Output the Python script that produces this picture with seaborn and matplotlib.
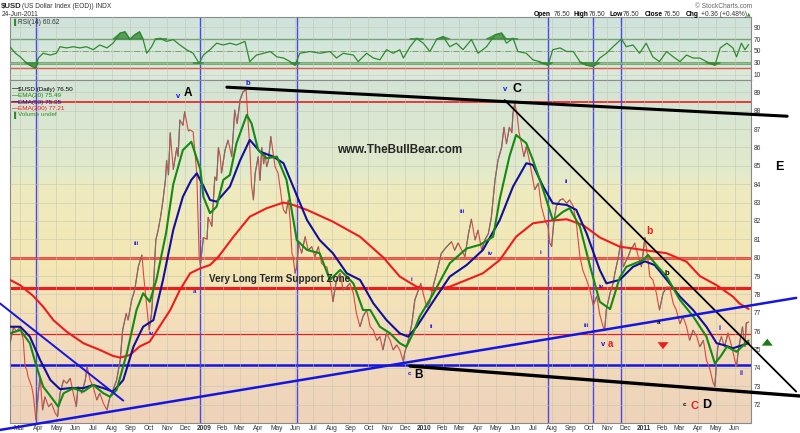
import pandas as pd
import matplotlib
matplotlib.use("Agg")
import matplotlib.pyplot as plt
import matplotlib.dates as mdates
from matplotlib.collections import LineCollection
from matplotlib.colors import LinearSegmentedColormap
import seaborn as sns

sns.set_style("white")
plt.rcParams['font.family'] = ['Liberation Sans', 'DejaVu Sans']

# ---- price (daily close) ----
price_dates = [
    "2008-02-14", "2008-02-20", "2008-02-25", "2008-03-02", "2008-03-07", "2008-03-10", "2008-03-13",
    "2008-03-15", "2008-03-21", "2008-03-24", "2008-03-28", "2008-04-01", "2008-04-04", "2008-04-08",
    "2008-04-12", "2008-04-18", "2008-04-23", "2008-04-29", "2008-05-03", "2008-05-07", "2008-05-13",
    "2008-05-18", "2008-05-24", "2008-05-29", "2008-06-03", "2008-06-06", "2008-06-12", "2008-06-18",
    "2008-06-21", "2008-06-26", "2008-07-01", "2008-07-07", "2008-07-12", "2008-07-18", "2008-07-24",
    "2008-07-29", "2008-08-03", "2008-08-09", "2008-08-15", "2008-08-19", "2008-08-25", "2008-08-28",
    "2008-09-03", "2008-09-08", "2008-09-14", "2008-09-20", "2008-09-23", "2008-09-28", "2008-10-02",
    "2008-10-06", "2008-10-10", "2008-10-13", "2008-10-17", "2008-10-21", "2008-10-25", "2008-10-29",
    "2008-10-31", "2008-11-03", "2008-11-06", "2008-11-11", "2008-11-17", "2008-11-19", "2008-11-22",
    "2008-11-27", "2008-11-30", "2008-12-06", "2008-12-09", "2008-12-14", "2008-12-20", "2008-12-24",
    "2008-12-26", "2008-12-31", "2009-01-06", "2009-01-08", "2009-01-14", "2009-01-16", "2009-01-19",
    "2009-01-22", "2009-01-25", "2009-01-28", "2009-01-30", "2009-02-05", "2009-02-10", "2009-02-16",
    "2009-02-19", "2009-02-21", "2009-02-25", "2009-03-02", "2009-03-07", "2009-03-12", "2009-03-15",
    "2009-03-18", "2009-03-21", "2009-03-24", "2009-03-27", "2009-04-01", "2009-04-04", "2009-04-07",
    "2009-04-10", "2009-04-12", "2009-04-15", "2009-04-18", "2009-04-22", "2009-04-25", "2009-04-29",
    "2009-05-04", "2009-05-07", "2009-05-10", "2009-05-13", "2009-05-17", "2009-05-21", "2009-05-24",
    "2009-05-27", "2009-05-29", "2009-06-01", "2009-06-04", "2009-06-07", "2009-06-12", "2009-06-18",
    "2009-06-23", "2009-06-29", "2009-07-04", "2009-07-10", "2009-07-15", "2009-07-21", "2009-07-24",
    "2009-07-31", "2009-08-03", "2009-08-09", "2009-08-15", "2009-08-20", "2009-08-26", "2009-08-31",
    "2009-09-06", "2009-09-11", "2009-09-17", "2009-09-22", "2009-09-28", "2009-10-04", "2009-10-09",
    "2009-10-15", "2009-10-20", "2009-10-25", "2009-10-31", "2009-11-06", "2009-11-11", "2009-11-17",
    "2009-11-22", "2009-11-28", "2009-11-30", "2009-12-06", "2009-12-12", "2009-12-17", "2009-12-23",
    "2009-12-27", "2010-01-01", "2010-01-06", "2010-01-11", "2010-01-16", "2010-01-22", "2010-01-30",
    "2010-02-08", "2010-02-16", "2010-02-21", "2010-02-27", "2010-03-10", "2010-03-16", "2010-03-21",
    "2010-03-27", "2010-04-01", "2010-04-07", "2010-04-12", "2010-04-18", "2010-04-23", "2010-04-29",
    "2010-05-04", "2010-05-10", "2010-05-14", "2010-05-18", "2010-05-23", "2010-05-27", "2010-05-29",
    "2010-06-01", "2010-06-05", "2010-06-08", "2010-06-12", "2010-06-16", "2010-06-20", "2010-06-25",
    "2010-06-29", "2010-07-04", "2010-07-10", "2010-07-15", "2010-07-21", "2010-07-26", "2010-07-29",
    "2010-08-01", "2010-08-05", "2010-08-09", "2010-08-15", "2010-08-20", "2010-08-26", "2010-08-31",
    "2010-09-06", "2010-09-11", "2010-09-17", "2010-09-22", "2010-09-28", "2010-10-04", "2010-10-09",
    "2010-10-15", "2010-10-20", "2010-10-25", "2010-10-28", "2010-10-31", "2010-11-06", "2010-11-11",
    "2010-11-14", "2010-11-19", "2010-11-25", "2010-11-28", "2010-12-02", "2010-12-06", "2010-12-11",
    "2010-12-14", "2010-12-17", "2010-12-23", "2010-12-28", "2010-12-31", "2011-01-03", "2011-01-08",
    "2011-01-11", "2011-01-16", "2011-01-22", "2011-01-27", "2011-02-02", "2011-02-08", "2011-02-13",
    "2011-02-19", "2011-02-24", "2011-03-02", "2011-03-07", "2011-03-13", "2011-03-18", "2011-03-24",
    "2011-03-30", "2011-04-04", "2011-04-10", "2011-04-15", "2011-04-21", "2011-04-26", "2011-04-29",
    "2011-05-02", "2011-05-04", "2011-05-10", "2011-05-15", "2011-05-21", "2011-05-27", "2011-06-01",
    "2011-06-04", "2011-06-07", "2011-06-09", "2011-06-14", "2011-06-18", "2011-06-20", "2011-06-24",
]
price_close = [
    75.34, 76.24, 75.97, 76.24, 75.52, 74.07, 73.89,
    73.52, 72.98, 72.43, 71.17, 72.62, 73.52, 71.71,
    72.43, 71.89, 72.07, 71.53, 71.35, 72.62, 73.34,
    73.16, 73.43, 72.62, 71.89, 72.98, 72.62, 73.34,
    74.07, 73.34, 72.98, 72.25, 72.62, 72.07, 71.71,
    72.43, 72.80, 73.34, 74.43, 76.06, 76.97, 76.60,
    77.70, 78.24, 79.51, 80.15, 78.97, 77.33, 76.06,
    76.97, 78.97, 80.96, 81.51, 82.23, 83.14, 84.23,
    85.30, 84.50, 86.80, 84.80, 86.00, 85.50, 87.50,
    87.20, 87.95, 86.90, 86.95, 86.85, 84.60, 80.05,
    79.60, 81.10, 81.00, 82.20, 81.70, 82.80, 84.40,
    84.20, 86.00, 85.50, 84.60, 85.86, 86.40, 85.50,
    86.95, 88.04, 87.30, 88.60, 89.04, 89.13, 87.50,
    86.04, 83.90, 83.14, 84.60, 85.50, 84.20, 86.00,
    85.10, 85.70, 84.95, 85.30, 86.60, 85.86, 84.95,
    84.60, 83.90, 83.14, 82.60, 82.40, 83.14, 82.05,
    80.24, 80.05, 79.15, 79.50, 80.80, 80.24, 81.14,
    80.40, 80.60, 80.05, 80.60, 79.70, 79.50, 79.50,
    78.40, 77.60, 78.80, 79.15, 78.24, 78.40, 78.60,
    78.06, 76.97, 76.24, 76.80, 77.15, 76.24, 76.06,
    75.50, 75.70, 74.98, 75.90, 75.50, 74.98, 75.25,
    74.98, 74.34, 74.80, 75.50, 76.40, 77.70, 78.24,
    78.60, 77.90, 77.30, 77.60, 78.40, 79.15, 80.24,
    80.60, 80.87, 80.40, 80.80, 80.05, 81.30, 82.10,
    80.96, 81.50, 80.40, 80.96, 81.30, 82.20, 84.20,
    85.30, 86.00, 87.10, 86.20, 87.10, 86.80, 87.90,
    88.40, 87.70, 86.80, 86.20, 85.50, 86.04, 85.30,
    84.60, 83.70, 84.05, 82.80, 82.05, 81.70, 80.80,
    80.60, 82.05, 82.80, 83.14, 83.20, 82.96, 83.14,
    82.80, 81.90, 80.05, 79.30, 78.80, 78.20, 77.40,
    77.90, 76.90, 76.30, 76.06, 77.20, 78.06, 78.60,
    79.15, 79.90, 81.00, 79.50, 79.80, 80.05, 80.50,
    80.60, 80.80, 80.05, 79.50, 80.30, 81.10, 79.87,
    78.97, 78.80, 78.06, 77.15, 78.06, 78.40, 78.40,
    77.50, 77.15, 76.40, 76.80, 76.24, 75.50, 76.06,
    75.70, 75.15, 75.50, 74.43, 73.90, 73.20, 72.98,
    74.43, 75.15, 75.70, 75.15, 75.90, 75.15, 74.43,
    74.07, 74.98, 75.34, 76.24, 75.15, 76.43, 76.50,
]

# ---- moving averages as drawn on the chart ----
ema20_dates = [
    "2008-02-14", "2008-03-02", "2008-03-18", "2008-03-29", "2008-04-09", "2008-04-26", "2008-05-04",
    "2008-05-13", "2008-05-29", "2008-06-15", "2008-07-01", "2008-07-18", "2008-07-29", "2008-08-09",
    "2008-08-26", "2008-09-11", "2008-09-22", "2008-10-03", "2008-10-14", "2008-10-30", "2008-11-11",
    "2008-11-27", "2008-12-11", "2008-12-26", "2008-12-31", "2009-01-11", "2009-01-22", "2009-02-02",
    "2009-02-13", "2009-02-24", "2009-03-13", "2009-03-21", "2009-04-01", "2009-04-15", "2009-05-02",
    "2009-05-18", "2009-06-04", "2009-06-21", "2009-07-12", "2009-07-29", "2009-08-15", "2009-09-06",
    "2009-09-22", "2009-10-04", "2009-10-20", "2009-11-06", "2009-11-22", "2009-12-03", "2009-12-14",
    "2009-12-25", "2010-01-16", "2010-02-13", "2010-03-13", "2010-04-04", "2010-04-26", "2010-05-07",
    "2010-05-23", "2010-06-03", "2010-06-20", "2010-07-01", "2010-07-18", "2010-08-03", "2010-08-20",
    "2010-08-31", "2010-09-17", "2010-10-04", "2010-10-20", "2010-11-06", "2010-11-22", "2010-12-03",
    "2010-12-31", "2011-01-08", "2011-01-22", "2011-02-08", "2011-03-02", "2011-03-24", "2011-04-15",
    "2011-04-29", "2011-05-08", "2011-05-19", "2011-06-04", "2011-06-24",
]
ema20 = [
    75.88, 76.06, 75.34, 74.07, 72.98, 72.25, 71.89,
    72.62, 72.89, 72.71, 73.07, 72.62, 72.43, 72.80,
    74.80, 77.15, 78.06, 77.60, 78.79, 81.33, 84.00,
    85.86, 86.31, 84.80, 83.32, 82.42, 82.78, 84.23,
    84.50, 86.23, 87.77, 87.30, 85.86, 85.41, 85.50,
    84.23, 80.96, 80.42, 80.24, 78.79, 79.33, 78.60,
    77.15, 77.15, 76.24, 75.88, 75.34, 75.15, 75.88,
    76.80, 78.00, 79.70, 80.50, 80.70, 81.14, 83.20,
    85.50, 86.68, 86.23, 85.32, 83.69, 82.05, 82.50,
    82.69, 81.69, 79.51, 77.60, 77.20, 78.90, 79.50,
    79.87, 80.15, 79.60, 78.97, 77.70, 76.80, 75.70,
    74.25, 74.60, 75.15, 74.88, 75.49,
]
ema50_dates = [
    "2008-02-14", "2008-03-02", "2008-03-18", "2008-04-04", "2008-04-21", "2008-05-07", "2008-05-24",
    "2008-06-15", "2008-07-01", "2008-07-18", "2008-08-03", "2008-08-20", "2008-09-06", "2008-09-22",
    "2008-10-09", "2008-10-25", "2008-11-11", "2008-11-27", "2008-12-11", "2008-12-20", "2008-12-31",
    "2009-01-11", "2009-01-22", "2009-02-13", "2009-03-02", "2009-03-18", "2009-04-04", "2009-04-26",
    "2009-05-13", "2009-05-29", "2009-06-21", "2009-07-12", "2009-08-03", "2009-08-26", "2009-09-17",
    "2009-10-09", "2009-10-31", "2009-11-22", "2009-12-06", "2009-12-20", "2010-01-16", "2010-02-13",
    "2010-03-13", "2010-04-09", "2010-05-07", "2010-05-29", "2010-06-20", "2010-07-01", "2010-07-18",
    "2010-08-03", "2010-08-26", "2010-09-11", "2010-09-28", "2010-10-20", "2010-10-31", "2010-11-22",
    "2010-12-14", "2011-01-03", "2011-01-19", "2011-02-08", "2011-03-02", "2011-03-24", "2011-04-15",
    "2011-05-02", "2011-05-13", "2011-05-29", "2011-06-15", "2011-06-24",
]
ema50 = [
    76.24, 76.24, 75.70, 74.43, 73.34, 72.84, 72.90,
    72.90, 73.07, 72.90, 72.70, 73.34, 75.16, 76.24,
    76.60, 78.79, 81.51, 83.32, 84.23, 84.59, 83.90,
    83.14, 83.05, 83.87, 85.30, 86.41, 85.77, 85.50,
    85.14, 83.87, 82.05, 80.96, 80.24, 79.15, 78.79,
    77.52, 76.60, 75.88, 75.70, 76.24, 77.60, 78.97,
    79.60, 80.42, 82.05, 83.87, 85.14, 85.05, 83.87,
    82.96, 82.87, 82.60, 81.33, 79.33, 78.60, 78.79,
    79.50, 79.80, 79.60, 78.80, 77.88, 77.15, 76.24,
    75.34, 75.25, 75.07, 75.25, 75.35,
]
ema200_dates = [
    "2008-02-14", "2008-03-02", "2008-03-24", "2008-04-09", "2008-04-26", "2008-05-18", "2008-06-15",
    "2008-07-12", "2008-08-03", "2008-08-15", "2008-08-31", "2008-09-16", "2008-10-03", "2008-10-19",
    "2008-11-06", "2008-11-22", "2008-12-09", "2008-12-26", "2009-01-11", "2009-01-25", "2009-02-19",
    "2009-03-18", "2009-04-15", "2009-05-13", "2009-05-29", "2009-06-21", "2009-08-03", "2009-09-17",
    "2009-10-26", "2009-11-22", "2009-12-20", "2010-01-16", "2010-02-13", "2010-03-13", "2010-04-09",
    "2010-05-07", "2010-06-03", "2010-07-01", "2010-07-29", "2010-08-26", "2010-09-22", "2010-10-20",
    "2010-11-22", "2010-12-31", "2011-02-08", "2011-03-13", "2011-04-04", "2011-05-02", "2011-05-29",
    "2011-06-09", "2011-06-24",
]
ema200 = [
    78.79, 78.50, 77.90, 77.33, 76.60, 75.97, 75.34,
    74.98, 74.65, 74.56, 74.70, 75.16, 75.43, 76.24,
    77.15, 78.24, 79.15, 79.42, 79.60, 80.05, 81.14,
    82.23, 82.69, 83.00, 82.87, 82.60, 81.96, 81.14,
    80.00, 78.97, 78.42, 78.24, 78.42, 78.79, 79.15,
    79.87, 81.14, 81.87, 82.01, 82.09, 81.78, 81.10,
    80.60, 80.42, 80.24, 79.78, 79.00, 78.50, 77.88,
    77.50, 77.21,
]

# ---- RSI(14) ----
rsi_dates = [
    "2008-02-14", "2008-02-23", "2008-03-02", "2008-03-10", "2008-03-18", "2008-03-27", "2008-04-01",
    "2008-04-09", "2008-04-21", "2008-05-01", "2008-05-07", "2008-05-18", "2008-05-29", "2008-06-09",
    "2008-06-20", "2008-07-01", "2008-07-12", "2008-07-24", "2008-08-03", "2008-08-15", "2008-08-23",
    "2008-08-31", "2008-09-08", "2008-09-16", "2008-09-22", "2008-09-28", "2008-10-06", "2008-10-12",
    "2008-10-20", "2008-10-31", "2008-11-11", "2008-11-22", "2008-12-03", "2008-12-14", "2008-12-24",
    "2008-12-31", "2009-01-11", "2009-01-22", "2009-02-02", "2009-02-13", "2009-02-24", "2009-03-10",
    "2009-03-18", "2009-03-29", "2009-04-10", "2009-04-21", "2009-05-02", "2009-05-13", "2009-05-24",
    "2009-06-01", "2009-06-09", "2009-06-26", "2009-07-13", "2009-07-29", "2009-08-09", "2009-08-20",
    "2009-09-06", "2009-09-14", "2009-09-28", "2009-10-09", "2009-10-20", "2009-10-31", "2009-11-11",
    "2009-11-22", "2009-11-28", "2009-12-09", "2009-12-20", "2009-12-31", "2010-01-11", "2010-01-22",
    "2010-02-02", "2010-02-13", "2010-02-24", "2010-03-07", "2010-03-21", "2010-04-01", "2010-04-15",
    "2010-04-29", "2010-05-10", "2010-05-18", "2010-05-29", "2010-06-06", "2010-06-20", "2010-07-01",
    "2010-07-12", "2010-07-26", "2010-08-03", "2010-08-15", "2010-08-26", "2010-09-06", "2010-09-17",
    "2010-09-28", "2010-10-09", "2010-10-20", "2010-10-31", "2010-11-11", "2010-11-25", "2010-12-03",
    "2010-12-14", "2010-12-25", "2011-01-05", "2011-01-16", "2011-01-27", "2011-02-08", "2011-02-19",
    "2011-03-02", "2011-03-13", "2011-03-24", "2011-04-04", "2011-04-15", "2011-04-29", "2011-05-08",
    "2011-05-19", "2011-05-29", "2011-06-04", "2011-06-12", "2011-06-18", "2011-06-24",
]
rsi = [
    57, 46, 40, 32, 26, 21, 38,
    46, 43, 46, 57, 55, 57, 55,
    57, 52, 60, 55, 63, 80, 82,
    69, 77, 82, 69, 46, 57, 69,
    71, 66, 69, 60, 52, 46, 29,
    43, 52, 63, 60, 63, 60, 66,
    32, 43, 46, 49, 40, 38, 32,
    26, 46, 49, 46, 49, 38, 46,
    43, 32, 46, 38, 35, 52, 46,
    52, 38, 57, 71, 63, 49, 69,
    74, 57, 63, 52, 69, 46, 57,
    77, 80, 63, 71, 49, 46, 35,
    32, 26, 52, 55, 49, 49, 32,
    26, 24, 38, 46, 57, 70, 57,
    60, 46, 63, 40, 32, 49, 40,
    32, 43, 38, 38, 32, 26, 55,
    63, 55, 40, 63, 52, 60.62,
]

# ---- analyst drawings ----
hlines = [(88.5, '#ee1c1c', 1.2), (80.0, '#ee1c1c', 1.8), (78.37, '#ee1c1c', 2.2),
          (75.85, '#ee1c1c', 0.9), (74.16, '#1515e0', 1.8)]
trendlines = [
    (("2009-02-08", "2011-08-27"), (89.28, 87.70), 'black', 2.2),
    (("2010-05-15", "2011-09-11"), (88.58, 72.71), 'black', 1.3),
    (("2009-12-09", "2011-09-17"), (74.10, 72.47), 'black', 2.4),
    (("2008-01-28", "2011-09-11"), (70.62, 77.81), '#1515e0', 1.8),
    (("2008-01-28", "2008-08-20"), (77.52, 72.22), '#1515e0', 1.4),
]
vlines = ["2008-03-28", "2008-12-25", "2009-06-04", "2010-07-26", "2010-10-09", "2010-11-25"]

labels = [
    ("v", "2008-11-19", 88.80, '#1515e0', 5.5), ("A", "2008-12-05", 88.97, 'black', 8.5),
    ("b", "2009-03-15", 89.50, '#1515e0', 5.5),
    ("v", "2010-05-15", 89.13, '#1515e0', 5.5), ("C", "2010-06-05", 89.17, 'black', 9),
    ("E", "2011-08-14", 84.92, 'black', 9),
    ("c", "2009-12-08", 73.71, '#1515e0', 4.5), ("B", "2009-12-23", 73.61, 'black', 8.5),
    ("c", "2011-03-09", 71.98, 'black', 4.5), ("C", "2011-03-27", 71.94, '#ee1c1c', 8),
    ("D", "2011-04-15", 71.98, 'black', 9),
    ("b", "2011-01-11", 81.47, '#ee1c1c', 7.5), ("b", "2011-02-09", 79.15, 'black', 5.5),
    ("v", "2010-10-25", 75.25, '#1515e0', 5.5), ("a", "2010-11-07", 75.30, '#ee1c1c', 7),
    ("a", "2011-01-26", 76.46, 'black', 4.5),
    ("i", "2011-05-06", 76.16, '#1515e0', 5), ("ii", "2011-06-12", 73.71, '#1515e0', 5),
    ("iii", "2008-09-11", 80.78, '#1515e0', 4.5), ("iv", "2008-10-06", 75.88, '#1515e0', 4.5),
    ("a", "2008-12-17", 78.15, '#1515e0', 4.5),
    ("i", "2009-12-12", 78.79, '#1515e0', 4.5), ("ii", "2010-01-14", 76.28, '#1515e0', 4.5),
    ("iii", "2010-03-06", 82.50, '#1515e0', 4.5), ("iv", "2010-04-21", 80.24, '#1515e0', 4.5),
    ("i", "2010-07-14", 80.27, '#1515e0', 4.5), ("ii", "2010-08-26", 84.14, '#1515e0', 4.5),
    ("iii", "2010-09-28", 76.33, '#1515e0', 4.5), ("iv", "2010-10-22", 78.45, '#1515e0', 4.5),
]

price_dt = pd.to_datetime(price_dates)

fig = plt.figure(figsize=(8, 4.33), dpi=100)
ax = fig.add_axes([0.0125, 0.0231, 0.92625, 0.7921])
ax_rsi = fig.add_axes([0.0125, 0.8152, 0.92625, 0.1455], sharex=ax)
ax.set_zorder(2)
ax_rsi.set_zorder(1)

x_lo, x_hi = pd.Timestamp("2008-02-14"), pd.Timestamp("2011-06-28")
y_lo, y_hi = 71.0, 89.67

# price line: red overall, grey on up days
sns.lineplot(x=price_dt, y=price_close, ax=ax, color='#e0463c', lw=0.8, zorder=3)
xs = mdates.date2num(price_dt)
up = [[(xs[i], price_close[i]), (xs[i + 1], price_close[i + 1])]
      for i in range(len(xs) - 1) if price_close[i + 1] > price_close[i]]
ax.add_collection(LineCollection(up, colors='#707070', linewidths=0.8, zorder=3))

sns.lineplot(x=pd.to_datetime(ema200_dates), y=ema200, ax=ax, color='#ee1c1c', lw=1.5, zorder=4)
sns.lineplot(x=pd.to_datetime(ema50_dates), y=ema50, ax=ax, color='#10109a', lw=1.5, zorder=4)
sns.lineplot(x=pd.to_datetime(ema20_dates), y=ema20, ax=ax, color='#138a13', lw=1.5, zorder=4)

# background gradients
main_cmap = LinearSegmentedColormap.from_list('bg', [
    (0.0, '#d3e4d6'), (0.27, '#e2eacb'), (0.31, '#eeebc0'), (0.55, '#f4e7b4'),
    (0.75, '#f3dcbc'), (1.0, '#eed3ba')])
grad = [[i / 99.0] for i in range(100)]
x0n, x1n = mdates.date2num(x_lo), mdates.date2num(x_hi)
ax.imshow(grad, extent=[x0n, x1n, y_lo, y_hi], aspect='auto', cmap=main_cmap, zorder=0)
rsi_cmap = LinearSegmentedColormap.from_list('bg2', ['#cfe3dc', '#dbeada'])
ax_rsi.imshow(grad, extent=[x0n, x1n, 1, 107], aspect='auto', cmap=rsi_cmap, zorder=0)

for lvl, col, lw in hlines:
    ax.axhline(lvl, color=col, lw=lw, zorder=2)
for d in vlines:
    ax.axvline(pd.Timestamp(d), color='#4848e8', lw=1.0, zorder=2)
    ax_rsi.axvline(pd.Timestamp(d), color='#4848e8', lw=1.0, zorder=2)
for (d0, d1), (p0, p1), col, lw in trendlines:
    ax.plot([pd.Timestamp(d0), pd.Timestamp(d1)], [p0, p1], color=col, lw=lw, zorder=5, clip_on=False)

for txt, d, p, col, size in labels:
    ax.text(pd.Timestamp(d), p, txt, color=col, fontsize=size, fontweight='bold',
            ha='center', va='center', zorder=6, clip_on=False)

ax.text(pd.Timestamp("2009-11-22"), 85.86, "www.TheBullBear.com", fontsize=8.4,
        fontweight='bold', ha='center', va='center', zorder=6)
ax.text(pd.Timestamp("2009-05-07"), 78.82, "Very Long Term Support Zone", fontsize=7.1,
        fontweight='bold', ha='center', va='center', zorder=6)

# arrows
ax.annotate('', xy=(pd.Timestamp("2011-02-02"), 74.87), xytext=(0, 7), textcoords='offset points',
            arrowprops=dict(arrowstyle='simple,head_length=0.5,head_width=0.8,tail_width=0.4',
                            color='#e82020', lw=0), zorder=6)
ax.annotate('', xy=(pd.Timestamp("2011-07-25"), 75.74), xytext=(0, -7), textcoords='offset points',
            arrowprops=dict(arrowstyle='simple,head_length=0.5,head_width=0.8,tail_width=0.4',
                            color='#1a7a1a', lw=0), zorder=6, annotation_clip=False)

# RSI panel
rsi_dt = pd.to_datetime(rsi_dates)
sns.lineplot(x=rsi_dt, y=rsi, ax=ax_rsi, color='#2f8a2f', lw=0.9, zorder=4)
rsi_s = pd.Series(rsi, index=rsi_dt)
ax_rsi.fill_between(rsi_dt, rsi_s.clip(lower=70), 70, where=rsi_s > 70, color='#3a8a3a',
                    alpha=0.8, zorder=3, interpolate=True)
ax_rsi.fill_between(rsi_dt, rsi_s.clip(upper=30), 30, where=rsi_s < 30, color='#3a8a3a',
                    alpha=0.8, zorder=3, interpolate=True)
ax_rsi.axhline(70, color='#3a7d3a', lw=0.9, zorder=2)
ax_rsi.axhline(50, color='#3a7d3a', lw=0.7, ls='-.', zorder=2)
ax_rsi.axhline(30, color='#5aa05a', lw=2.2, alpha=0.8, zorder=2)
ax_rsi.axhline(22, color='#e05a4a', lw=1.0, zorder=2)

# axes styling
month_ticks = pd.date_range("2008-03-01", "2011-06-01", freq='MS')
tick_labels = [str(m.year) if m.month == 1 else m.strftime('%b') for m in month_ticks]
for a in (ax, ax_rsi):
    a.set_xlim(x_lo, x_hi)
    a.set_xticks(month_ticks)
    a.grid(True, color='#c4c4b0', lw=0.6, alpha=0.6)
    a.set_axisbelow(False)
    a.yaxis.tick_right()
    a.tick_params(length=0, labelsize=4.8, colors='#333333', pad=2)
    a.set_xlabel('')
    a.set_ylabel('')
    for s in a.spines.values():
        s.set_color('#8a8a8a')
        s.set_linewidth(0.8)
ax.set_ylim(y_lo, y_hi)
ax.set_yticks(range(72, 90))
ax.set_xticklabels(tick_labels)
ax.tick_params(axis='x', pad=1.5)
for t in ax.get_xticklabels():
    if t.get_text().isdigit():
        t.set_fontweight('bold')
ax_rsi.set_ylim(1, 107)
ax_rsi.set_yticks([10, 30, 50, 70, 90])
ax_rsi.tick_params(axis='x', labelbottom=False)
for a in (ax, ax_rsi):
    for gl in a.get_xgridlines() + a.get_ygridlines():
        gl.set_zorder(1)

# legend block
leg = [("$USD (Daily) 76.50", 'black'), ("EMA(20) 75.49", '#138a13'),
       ("EMA(50) 75.35", '#10109a'), ("EMA(200) 77.21", '#ee1c1c')]
for i, (txt, col) in enumerate(leg):
    y = 1 - (89 + i * 6.6) / 433
    fig.text(12 / 800, y, "\u2014", color=col, fontsize=4.6, fontweight='bold', va='center', zorder=10)
    fig.text(18.5 / 800, y, txt, color=col, fontsize=4.6, va='center', zorder=10)
fig.text(12 / 800, 1 - 115 / 433, "\u2590", color='#2f8a2f', fontsize=4.2, va='center', zorder=10)
fig.text(18.5 / 800, 1 - 115 / 433, "Volume undef", color='#2f8a2f', fontsize=4.6, va='center', zorder=10)
fig.text(12 / 800, 1 - 22.3 / 433, "\u2590", color='#2f8a2f', fontsize=4.2, va='center')
fig.text(18.5 / 800, 1 - 22.3 / 433, "RSI(14) 60.62", color='#333333', fontsize=4.8, va='center')

# header
fig.text(1 / 800, 1 - 6.7 / 433, "$USD", fontsize=5.6, fontweight='bold', va='center')
fig.text(22.5 / 800, 1 - 6.7 / 433, "(US Dollar Index (EOD)) INDX", fontsize=4.8, va='center',
         color='#333333')
fig.text(2 / 800, 1 - 14.3 / 433, "24-Jun-2011", fontsize=4.8, va='center', color='#333333')
fig.text(752 / 800, 1 - 6 / 433, "\u00a9 StockCharts.com", fontsize=4.8, va='center', ha='right',
         color='#666666')
hdr = [("Open", 534, True), ("76.50", 553.3, False), ("High", 573.3, True), ("76.50", 589, False),
       ("Low", 609, True), ("76.50", 622.7, False), ("Close", 645, True), ("76.50", 664, False),
       ("Chg", 686, True), ("+0.36 (+0.48%)", 701, False)]
for txt, px, bold in hdr:
    fig.text(px / 800, 1 - 14.3 / 433, txt, fontsize=4.8, va='center',
             fontweight='bold' if bold else 'normal', color='black' if bold else '#333333')
fig.text(746.5 / 800, 1 - 14.3 / 433, "\u25b2", fontsize=3.3, va='center', color='#2f8a2f',
         family=['DejaVu Sans'])

fig.savefig("out.png", dpi=100)
